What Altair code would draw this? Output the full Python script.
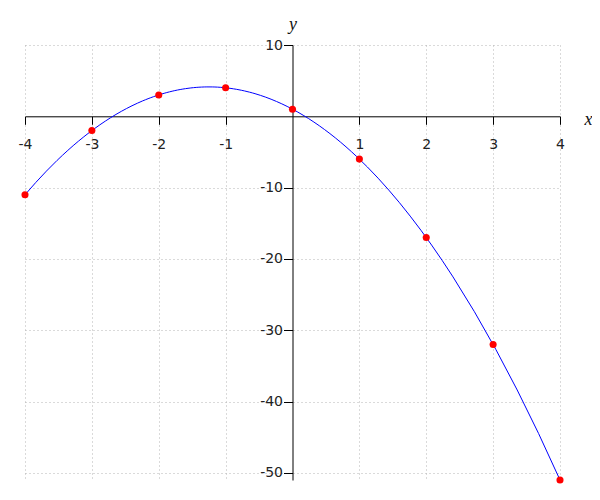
import altair as alt
import pandas as pd

# data
xs = [-4, -3, -2, -1, 0, 1, 2, 3, 4]
ys = [-11, -2, 3, 4, 1, -6, -17, -32, -51]
x_ticks = [-4, -3, -2, -1, 1, 2, 3, 4]
y_ticks = [10, -10, -20, -30, -40, -50]
x_domain = [-4, 4]
y_domain = [-51, 10]

W, H = 535, 435
df = pd.DataFrame({"x": xs, "y": ys})

# place the axes through the origin
x_off = -H * (0 - y_domain[0]) / (y_domain[1] - y_domain[0])
y_off = -W * (0 - x_domain[0]) / (x_domain[1] - x_domain[0])

xscale = alt.Scale(domain=x_domain, nice=False, zero=False)
yscale = alt.Scale(domain=y_domain, nice=False, zero=False)

common = dict(
    gridDash=[1, 3], gridColor="#b4b4b4", gridWidth=1,
    domainColor="black", tickColor="black", labelColor="#222",
    labelFont="DejaVu Sans", labelFontSize=14,
    labelExpr="datum.value + ''",
    titleFont="Liberation Serif", titleFontStyle="italic",
    titleFontWeight="normal", titleFontSize=18, titleColor="#111",
    titleAlign="center", titleBaseline="alphabetic", titleAngle=0,
    labelFlush=False, labelOverlap=False, zindex=0,
)

xaxis = alt.Axis(values=x_ticks, offset=x_off, title="x", titleX=563, titleY=8,
                 tickSize=8, labelPadding=13, **common)
yaxis = alt.Axis(values=y_ticks, offset=y_off, title="y", titleX=0, titleY=-16,
                 tickSize=9, labelPadding=1, **common)

enc = dict(
    x=alt.X("x:Q", scale=xscale, axis=xaxis),
    y=alt.Y("y:Q", scale=yscale, axis=yaxis),
)

curve = (
    alt.Chart(df)
    .transform_regression("x", "y", method="poly", order=2)
    .mark_line(color="#0000ff", strokeWidth=1)
    .encode(**enc)
)
points = alt.Chart(df).mark_circle(color="#ff0000", size=50, opacity=1).encode(**enc)

chart = (
    alt.layer(curve, points)
    .properties(
        width=W, height=H,
        padding={"left": 17, "top": 37, "right": 32, "bottom": 4},
        autosize=alt.AutoSizeParams(type="none"),
    )
    .configure_view(stroke=None)
)

chart.save("out.html", embed_options={"renderer": "svg", "actions": False})
